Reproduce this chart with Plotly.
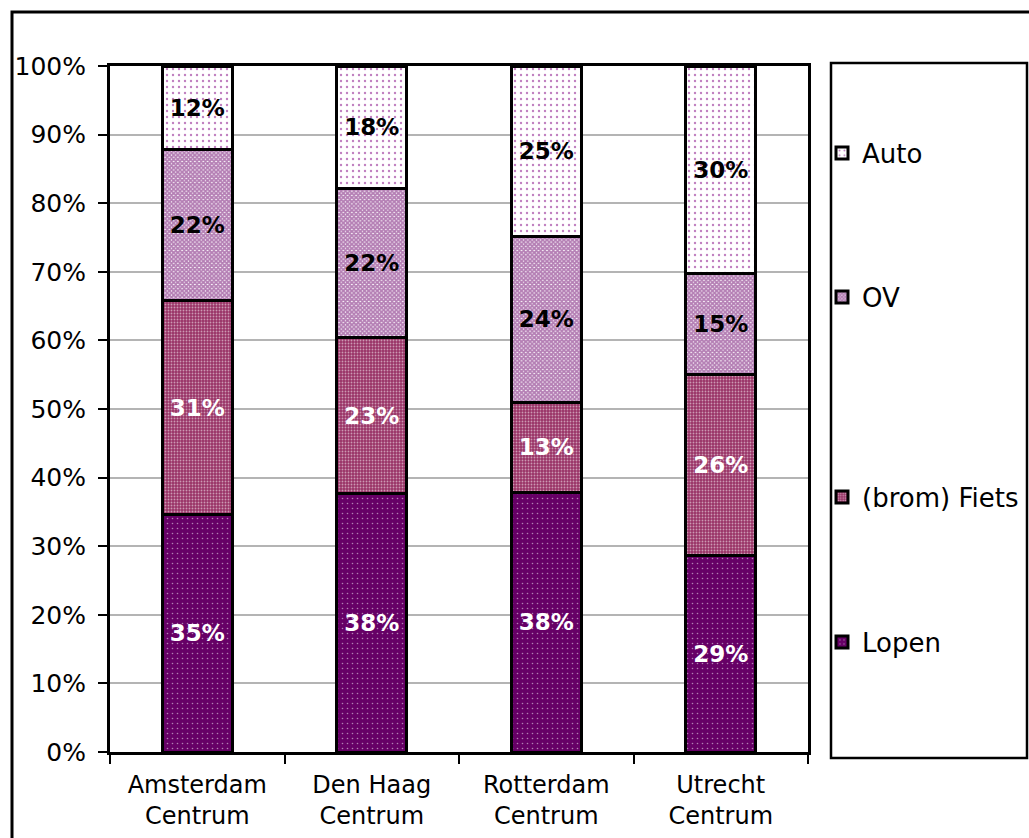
import plotly.graph_objects as go

categories = ["Amsterdam<br>Centrum", "Den Haag<br>Centrum", "Rotterdam<br>Centrum", "Utrecht<br>Centrum"]
lopen = [34.6, 37.7, 37.8, 28.6]
fiets = [31.2, 22.7, 13.2, 26.4]
ov = [22.0, 21.8, 24.1, 14.8]
auto = [12.2, 17.8, 24.9, 30.2]
y_ticks = [0, 10, 20, 30, 40, 50, 60, 70, 80, 90, 100]
y_tick_labels = [f"{v}%" for v in y_ticks]

FONT = "DejaVu Sans"
W, H = 1029, 838
L, R, T, B = 110, 808, 66, 752  # plot area in px


def px(x):
    return (x - L) / (R - L)


def py(y):
    return (B - y) / (B - T)


series = [
    ("Lopen", lopen, dict(shape=".", fgcolor="white", bgcolor="#660066", size=5, solidity=0.08), "white", "legend4", 642),
    ("(brom) Fiets", fiets, dict(shape=".", fgcolor="white", bgcolor="#993366", size=3, solidity=0.3), "white", "legend3", 497),
    ("OV", ov, dict(shape="x", fgcolor="#6a006a", bgcolor="white", size=3, solidity=0.85), "black", "legend2", 297),
    ("Auto", auto, dict(shape=".", fgcolor="#800080", bgcolor="white", size=6, solidity=0.12), "black", "legend", 153),
]

fig = go.Figure()
legend_layouts = {}
for name, vals, pattern, tcolor, leg, ly in series:
    fig.add_trace(go.Bar(
        name=name,
        x=categories,
        y=vals,
        text=[f"{round(v)}%" for v in vals],
        textposition="inside",
        insidetextanchor="middle",
        textangle=0,
        constraintext="none",
        textfont=dict(family=FONT, size=23, color=tcolor, weight="bold"),
        marker=dict(color=pattern["bgcolor"], pattern=pattern,
                    line=dict(color="black", width=3)),
        legend=leg,
        hoverinfo="skip",
    ))
    legend_layouts[leg] = dict(
        x=px(822), y=py(ly), xanchor="left", yanchor="middle",
        bgcolor="rgba(0,0,0,0)", borderwidth=0,
        font=dict(family=FONT, size=26, color="black"),
    )

shapes = [
    # outer chart border
    dict(type="rect", xref="paper", yref="paper",
         x0=px(12), x1=px(1100), y0=py(900), y1=py(12),
         line=dict(color="black", width=3), layer="below"),
    # legend box
    dict(type="rect", xref="paper", yref="paper",
         x0=px(831), x1=px(1027), y0=py(758), y1=py(63),
         line=dict(color="black", width=2.5)),
]

fig.update_layout(
    width=W, height=H,
    margin=dict(l=L, r=W - R, t=T, b=H - B, pad=0, autoexpand=False),
    paper_bgcolor="white", plot_bgcolor="white",
    barmode="stack", bargap=0.6,
    font=dict(family=FONT, size=24, color="black"),
    shapes=shapes,
    showlegend=True,
    **legend_layouts,
)

fig.update_yaxes(
    range=[0, 100], tickvals=y_ticks, ticktext=y_tick_labels,
    showgrid=True, gridcolor="#b4b4b4", gridwidth=2,
    showline=True, linecolor="black", linewidth=3, mirror=True,
    ticks="outside", ticklen=9, tickwidth=2, tickcolor="black",
    ticklabelstandoff=7, automargin=False,
    tickfont=dict(family=FONT, size=25, color="black"),
    zeroline=False, fixedrange=True,
)
fig.update_xaxes(
    showline=True, linecolor="black", linewidth=3, mirror=True,
    ticks="outside", tickson="boundaries", ticklen=9, tickwidth=2, tickcolor="black",
    ticklabelstandoff=9, automargin=False,
    tickfont=dict(family=FONT, size=24, color="black"),
    showgrid=False, fixedrange=True,
)

fig.write_html("out.html")
